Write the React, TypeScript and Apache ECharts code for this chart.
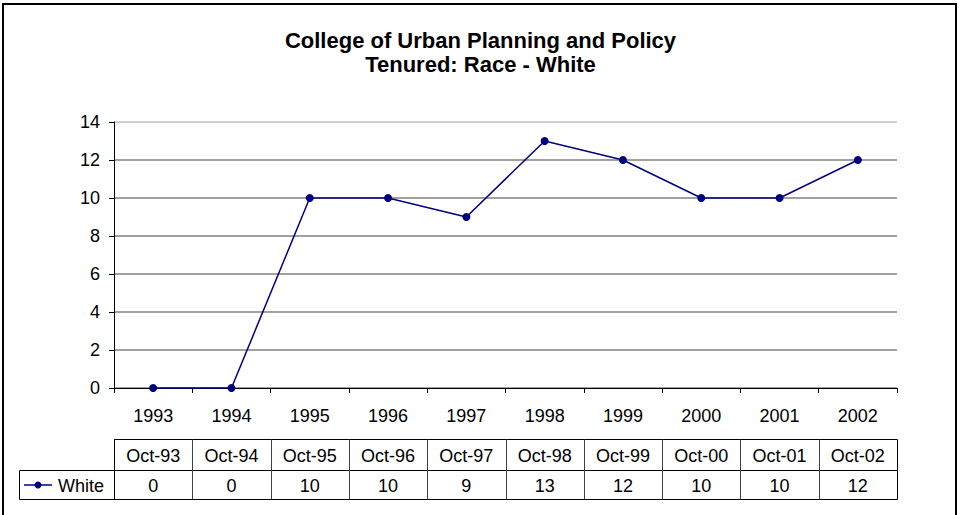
import React, { useEffect, useRef } from "react";
import * as echarts from "echarts";

const titleLines = ["College of Urban Planning and Policy", "Tenured: Race - White"];
const categories = ["1993", "1994", "1995", "1996", "1997", "1998", "1999", "2000", "2001", "2002"];
const tableHeaders = ["Oct-93", "Oct-94", "Oct-95", "Oct-96", "Oct-97", "Oct-98", "Oct-99", "Oct-00", "Oct-01", "Oct-02"];
const seriesName = "White";
const whiteValues = [0, 0, 10, 10, 9, 13, 12, 10, 10, 12];
const yMin = 0;
const yMax = 14;
const yInterval = 2;

const FONT = "'Liberation Sans', Arial, sans-serif";
const NAVY = "#000080";

export default function App() {
  const ref = useRef<HTMLDivElement>(null);

  useEffect(() => {
    if (!ref.current) return;
    const chart = echarts.init(ref.current, null, { renderer: "svg" });
    const gridColors = [
      "#808080", "#808080", "#808080", "#808080",
      "#808080", "#808080", "#808080", "#c0c0c0",
    ];
    chart.setOption({
      animation: false,
      backgroundColor: "#ffffff",
      title: {
        text: titleLines.join("\n"),
        left: "center",
        top: 28,
        padding: 0,
        textStyle: {
          fontFamily: FONT,
          fontSize: 22,
          fontWeight: "bold",
          lineHeight: 24,
          color: "#000",
        },
      },
      grid: { left: 114, right: 64, top: 122, bottom: 127, containLabel: false },
      xAxis: {
        type: "category",
        data: categories,
        boundaryGap: true,
        axisLine: { lineStyle: { color: "#000", width: 1 } },
        axisTick: { show: true, length: 5, lineStyle: { color: "#000" } },
        axisLabel: { fontFamily: FONT, fontSize: 18, color: "#000", margin: 19 },
        splitLine: { show: false },
      },
      yAxis: {
        type: "value",
        min: yMin,
        max: yMax,
        interval: yInterval,
        axisLine: { show: true, lineStyle: { color: "#000", width: 1 } },
        axisTick: { show: true, length: 5, lineStyle: { color: "#000" } },
        axisLabel: { fontFamily: FONT, fontSize: 18, color: "#000", margin: 14 },
        splitLine: { show: true, lineStyle: { color: gridColors, width: 1.5 } },
      },
      series: [
        {
          name: seriesName,
          type: "line",
          data: whiteValues,
          symbol: "circle",
          symbolSize: 8,
          lineStyle: { color: NAVY, width: 1.5 },
          itemStyle: { color: NAVY },
          z: 5,
        },
      ],
    });

    const xs = categories.map((_, i) => chart.convertToPixel({ xAxisIndex: 0 }, i) as number);
    const step = xs[1] - xs[0];
    const left = Math.round(xs[0] - step / 2) + 0.5;
    const right = Math.round(xs[xs.length - 1] + step / 2) + 0.5;
    const rowTop = 439.5;
    const rowMid = 470.5;
    const rowBot = 499.5;
    const legendLeft = 19.5;

    const elements: any[] = [
      {
        type: "rect",
        shape: { x: 3, y: 4, width: 953, height: 540 },
        style: { fill: "none", stroke: "#000", lineWidth: 2 },
        silent: true,
      },
      {
        type: "rect",
        shape: { x: left, y: rowTop, width: right - left, height: rowMid - rowTop },
        style: { fill: "none", stroke: "#000", lineWidth: 1 },
        silent: true,
      },
      {
        type: "rect",
        shape: { x: legendLeft, y: rowMid, width: right - legendLeft, height: rowBot - rowMid },
        style: { fill: "none", stroke: "#000", lineWidth: 1 },
        silent: true,
      },
      {
        type: "line",
        shape: { x1: left, y1: rowTop, x2: left, y2: rowBot },
        style: { stroke: "#000", lineWidth: 1 },
        silent: true,
      },
    ];
    for (let i = 1; i < xs.length; i++) {
      const bx = Math.round(xs[i] - step / 2) + 0.5;
      elements.push({
        type: "line",
        shape: { x1: bx, y1: rowTop, x2: bx, y2: rowBot },
        style: { stroke: "#404040", lineWidth: 1 },
        silent: true,
      });
    }
    tableHeaders.forEach((h, i) => {
      elements.push({
        type: "text",
        x: xs[i],
        y: (rowTop + rowMid) / 2 + 0.5,
        style: {
          text: h,
          fontFamily: FONT,
          fontSize: 18,
          fill: "#000",
          align: "center",
          verticalAlign: "middle",
        },
        silent: true,
      });
    });
    whiteValues.forEach((v, i) => {
      elements.push({
        type: "text",
        x: xs[i],
        y: (rowMid + rowBot) / 2 + 0.5,
        style: {
          text: String(v),
          fontFamily: FONT,
          fontSize: 18,
          fill: "#000",
          align: "center",
          verticalAlign: "middle",
        },
        silent: true,
      });
    });
    const legY = (rowMid + rowBot) / 2;
    elements.push(
      {
        type: "line",
        shape: { x1: 24, y1: legY, x2: 52, y2: legY },
        style: { stroke: NAVY, lineWidth: 1.5 },
        silent: true,
      },
      {
        type: "circle",
        shape: { cx: 38, cy: legY, r: 3.5 },
        style: { fill: NAVY },
        silent: true,
      },
      {
        type: "text",
        x: 58,
        y: legY + 0.5,
        style: {
          text: seriesName,
          fontFamily: FONT,
          fontSize: 18,
          fill: "#000",
          align: "left",
          verticalAlign: "middle",
        },
        silent: true,
      }
    );
    chart.setOption({ graphic: elements });

    return () => chart.dispose();
  }, []);

  return (
    <div
      ref={ref}
      style={{ position: "absolute", left: 0, top: 0, width: 961, height: 515 }}
    />
  );
}
